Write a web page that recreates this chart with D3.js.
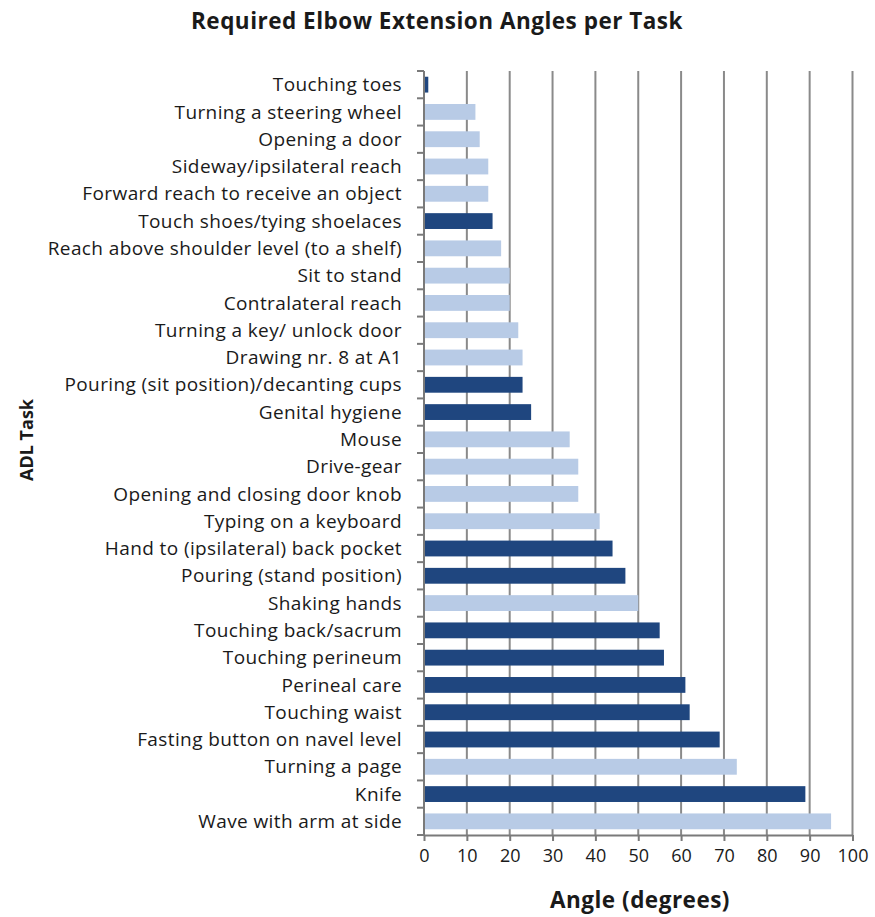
<!DOCTYPE html>
<html>
<head>
<meta charset="utf-8">
<script src="https://cdn.jsdelivr.net/npm/d3@7"></script>
<style>
  html, body { margin: 0; padding: 0; background: #fff; }
  svg { display: block; }
  text { font-family: "Open Sans", "Noto Sans", sans-serif; fill: #1a1a1a; }
</style>
</head>
<body>
<svg id="chart" width="875" height="917"></svg>
<script>
// Tasks, top to bottom
const tasks = [
  "Touching toes",
  "Turning a steering wheel",
  "Opening a door",
  "Sideway/ipsilateral reach",
  "Forward reach to receive an object",
  "Touch shoes/tying shoelaces",
  "Reach above shoulder level (to a shelf)",
  "Sit to stand",
  "Contralateral reach",
  "Turning a key/ unlock door",
  "Drawing nr. 8 at A1",
  "Pouring (sit position)/decanting cups",
  "Genital hygiene",
  "Mouse",
  "Drive-gear",
  "Opening and closing door knob",
  "Typing on a keyboard",
  "Hand to (ipsilateral) back pocket",
  "Pouring (stand position)",
  "Shaking hands",
  "Touching back/sacrum",
  "Touching perineum",
  "Perineal care",
  "Touching waist",
  "Fasting button on navel level",
  "Turning a page",
  "Knife",
  "Wave with arm at side"
];

// Required elbow extension angle (degrees)
const angles = [1, 12, 13, 15, 15, 16, 18, 20, 20, 22, 23, 23, 25, 34, 36, 36, 41, 44, 47, 50, 55, 56, 61, 62, 69, 73, 89, 95];

// Group of each task: "dark" or "light" bar
const groups = [
  "dark", "light", "light", "light", "light", "dark", "light", "light", "light", "light",
  "light", "dark", "dark", "light", "light", "light", "light", "dark", "dark", "light",
  "dark", "dark", "dark", "dark", "dark", "light", "dark", "light"
];

const xTicks = [0, 10, 20, 30, 40, 50, 60, 70, 80, 90, 100];

const colors = { dark: "#1f467f", light: "#b8cbe6" };

const svg = d3.select("#chart");
const margin = { top: 71, left: 424, right: 22, bottom: 82 };
const W = 875, H = 917;
const plotW = W - margin.left - margin.right;
const plotH = H - margin.top - margin.bottom;

const g = svg.append("g").attr("transform", `translate(${margin.left},${margin.top})`);

const x = d3.scaleLinear().domain([0, 100]).range([0, plotW - 0.5]);
const y = d3.scaleBand().domain(tasks).range([0, plotH]).paddingInner(0.42).paddingOuter(0.21);

// vertical gridlines
g.append("g").selectAll("line").data(xTicks.filter(d => d > 0)).join("line")
  .attr("x1", d => x(d)).attr("x2", d => x(d))
  .attr("y1", 0).attr("y2", plotH)
  .attr("stroke", "#8a8a8a").attr("stroke-width", 2);

// bars
g.append("g").selectAll("rect").data(tasks).join("rect")
  .attr("x", x(0) + 1)
  .attr("y", d => y(d))
  .attr("width", (d, i) => Math.max(0, x(angles[i]) - x(0) - 1))
  .attr("height", y.bandwidth())
  .attr("fill", (d, i) => colors[groups[i]]);

// x axis
const xAxis = g.append("g").attr("transform", `translate(0,${plotH})`)
  .call(d3.axisBottom(x).tickValues(xTicks).tickSize(6).tickPadding(8).tickSizeOuter(0));
xAxis.select(".domain").attr("stroke", "#7a7a7a").attr("stroke-width", 2);
xAxis.selectAll(".tick line").attr("stroke", "#7a7a7a").attr("stroke-width", 2);
xAxis.selectAll("text").attr("font-size", 18).attr("fill", "#1a1a1a")
  .style("font-family", "'Open Sans', 'Noto Sans', sans-serif");

// y axis: line with ticks at category boundaries
g.append("line").attr("x1", 0).attr("x2", 0).attr("y1", 0).attr("y2", plotH)
  .attr("stroke", "#7a7a7a").attr("stroke-width", 2);
const bounds = d3.range(tasks.length + 1).map(i => i * plotH / tasks.length);
g.append("g").selectAll("line").data(bounds).join("line")
  .attr("x1", -7).attr("x2", 0)
  .attr("y1", d => d).attr("y2", d => d)
  .attr("stroke", "#7a7a7a").attr("stroke-width", 2);

// category labels
g.append("g").selectAll("text").data(tasks).join("text")
  .attr("x", -22)
  .attr("y", d => y(d) + y.bandwidth() / 2)
  .attr("dy", "0.35em")
  .attr("text-anchor", "end")
  .attr("font-size", 19)
  .attr("letter-spacing", 0.4)
  .text(d => d);

// title
svg.append("text")
  .attr("x", 437).attr("y", 29)
  .attr("text-anchor", "middle")
  .attr("font-size", 22.5).attr("font-weight", "bold")
  .attr("letter-spacing", 0.5)
  .text("Required Elbow Extension Angles per Task");

// axis titles
svg.append("text")
  .attr("x", 640).attr("y", 908)
  .attr("text-anchor", "middle")
  .attr("font-size", 22.5).attr("font-weight", "bold")
  .attr("letter-spacing", 0.5)
  .text("Angle (degrees)");

svg.append("text")
  .attr("transform", "translate(33,440) rotate(-90)")
  .attr("text-anchor", "middle")
  .attr("font-size", 18).attr("font-weight", "bold")
  .text("ADL Task");
</script>
</body>
</html>
